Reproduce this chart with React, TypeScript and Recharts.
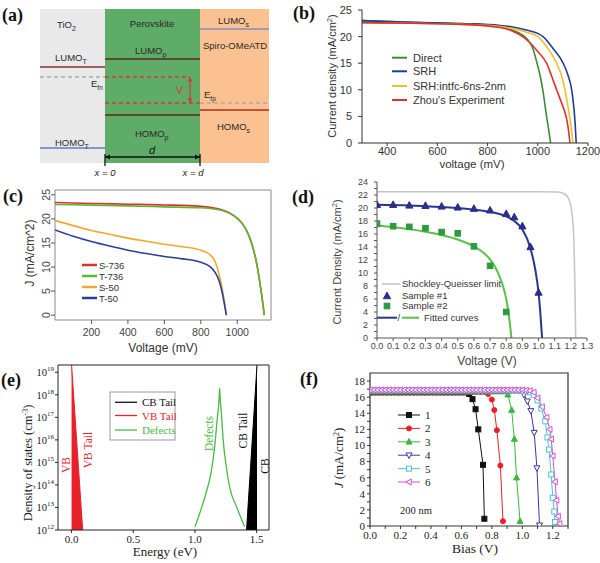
import React from 'react';
import { ComposedChart, Line, Area, XAxis, YAxis, ReferenceArea, ReferenceLine } from 'recharts';

const SANS = '"Liberation Sans", Arial, Helvetica, sans-serif';
const SERIF = '"Liberation Serif", "Times New Roman", serif';

// ---------------- (a) band diagram ----------------
const A_X_RANGE = [-0.684, 1.726];
const A_ENERGY_RANGE = [-7.7, 0];
const A_LAYERS = [
  { name: 'TiO2', from: -0.684, to: 0, fill: '#e9e9e9' },
  { name: 'Perovskite', from: 0, to: 1, fill: '#5fab68' },
  { name: 'Spiro-OMeATD', from: 1, to: 1.726, fill: '#fbc190' },
];
const A_LEVELS = [
  { name: 'LUMO_T', from: -0.684, to: 0, energy: -2.9, color: '#8c2b2b' },
  { name: 'HOMO_T', from: -0.684, to: 0, energy: -6.95, color: '#5b80c0' },
  { name: 'LUMO_p', from: 0, to: 1, energy: -2.5, color: '#5a2a1e' },
  { name: 'HOMO_p', from: 0, to: 1, energy: -5.3, color: '#5a2a1e' },
  { name: 'LUMO_s', from: 1, to: 1.726, energy: -1.0, color: '#8090c0' },
  { name: 'HOMO_s', from: 1, to: 1.726, energy: -5.05, color: '#a83222' },
];
const A_FERMI = [
  { name: 'Efn-TiO2', from: -0.684, to: 0, energy: -3.4, color: '#aaaaaa' },
  { name: 'Efn', from: 0, to: 0.895, energy: -3.4, color: '#d83a2e' },
  { name: 'Efp', from: 0, to: 1, energy: -4.7, color: '#d83a2e' },
  { name: 'Efp-spiro', from: 1, to: 1.726, energy: -4.7, color: '#aaaaaa' },
];
const A_V_X = 0.895;
const A_D_ENERGY = -7.4;
const A_BOUNDARIES = [0, 1];

// ---------------- (b) ----------------
const B_X_TICKS = [400, 600, 800, 1000, 1200];
const B_Y_TICKS = [0, 5, 10, 15, 20, 25];
const B_DIRECT = [[300, 23.0], [500, 22.7], [700, 22.4], [800, 22.15], [850, 21.8], [900, 21.2], [940, 20.3], [960, 19.4], [980, 17.8], [997, 15.0], [1010, 12.5], [1020, 10.0], [1035, 5.0], [1045, 2.0], [1051, 0]];
const B_SRH = [[300, 23.0], [500, 22.7], [700, 22.45], [850, 22.1], [900, 21.8], [950, 21.3], [1000, 20.6], [1021, 20.0], [1060, 17.8], [1101, 15.0], [1120, 12.8], [1135, 10.0], [1144, 6.5], [1149, 3.5], [1153, 0]];
const B_INTFC = [[300, 22.6], [500, 22.5], [700, 22.3], [850, 21.9], [900, 21.5], [950, 20.9], [1000, 20.0], [1040, 17.8], [1075, 15.0], [1100, 11.8], [1108, 10.0], [1125, 5.5], [1133, 3.0], [1140, 0]];
const B_ZHOU = [[300, 22.6], [500, 22.5], [700, 22.3], [850, 21.7], [900, 21.0], [940, 20.0], [970, 18.8], [1000, 17.2], [1035, 15.0], [1055, 12.6], [1075, 10.0], [1095, 7.5], [1115, 4.5], [1123, 2.2], [1128, 0]];
const B_SERIES = [
  { name: 'Direct', pts: B_DIRECT, color: '#3d8b37' },
  { name: 'SRH', pts: B_SRH, color: '#1f3d99' },
  { name: 'SRH:intfc-6ns-2nm', pts: B_INTFC, color: '#f2bf2a' },
  { name: "Zhou's Experiment", pts: B_ZHOU, color: '#e0302a' },
];

// ---------------- (c) ----------------
const C_X_TICKS = [200, 400, 600, 800, 1000];
const C_Y_TICKS = [0, 5, 10, 15, 20, 25];
const C_S736 = [[0, 23.4], [200, 23.2], [400, 23.05], [600, 22.9], [800, 22.6], [880, 22.2], [930, 21.7], [960, 21.2], [1000, 20.1], [1030, 18.9], [1052, 17.5], [1080, 14.8], [1106, 10.8], [1125, 6.5], [1140, 2.5], [1148, 0]];
const C_T736 = [[0, 23.0], [200, 22.85], [400, 22.7], [600, 22.5], [800, 22.3], [880, 22.0], [930, 21.6], [960, 21.1], [1000, 20.1], [1030, 18.9], [1052, 17.5], [1080, 14.8], [1106, 10.8], [1125, 6.5], [1140, 2.5], [1148, 0]];
const C_S50 = [[0, 19.7], [100, 18.6], [200, 17.6], [300, 16.8], [400, 16.0], [500, 15.35], [600, 14.75], [700, 14.2], [800, 13.5], [850, 12.6], [880, 11.0], [900, 8.5], [920, 5.0], [940, 0]];
const C_T50 = [[0, 17.7], [100, 16.4], [200, 15.3], [300, 14.35], [400, 13.5], [500, 12.8], [600, 12.2], [700, 11.7], [800, 11.0], [850, 10.1], [880, 8.8], [900, 7.2], [920, 4.2], [940, 0]];
const C_SERIES = [
  { name: 'S-736', pts: C_S736, color: '#e0302e' },
  { name: 'T-736', pts: C_T736, color: '#5cb832' },
  { name: 'S-50', pts: C_S50, color: '#f0a830' },
  { name: 'T-50', pts: C_T50, color: '#2a3f9a' },
];

// ---------------- (d) ----------------
const D_X_TICKS = [0, 0.1, 0.2, 0.3, 0.4, 0.5, 0.6, 0.7, 0.8, 0.9, 1.0, 1.1, 1.2, 1.3];
const D_Y_TICKS = [0, 1, 2, 3, 4, 5, 6, 7, 8, 9, 10, 11, 12, 13, 14, 15, 16, 17, 18, 19, 20, 21, 22, 23, 24];
const D_SQ_LIMIT = [[0, 22.5], [0.2, 22.5], [0.4, 22.5], [0.6, 22.5], [0.8, 22.5], [1.0, 22.5], [1.12, 22.45], [1.16, 22.2], [1.19, 21.2], [1.21, 18.5], [1.22, 14], [1.225, 8], [1.23, 0]];
const D_SAMPLE1 = [[0, 20.5], [0.1, 20.5], [0.2, 20.4], [0.3, 20.35], [0.4, 20.25], [0.5, 20.1], [0.6, 19.9], [0.7, 19.65], [0.8, 19.1], [0.85, 18.6], [0.9, 17.2], [0.95, 14.0], [1.0, 7.0]];
const D_SAMPLE2 = [[0, 17.6], [0.1, 17.2], [0.2, 17.1], [0.3, 16.9], [0.4, 16.3], [0.5, 16.1], [0.6, 14.1], [0.7, 11.1], [0.8, 4.0]];
const D_FIT1 = [[0, 20.5], [0.2, 20.4], [0.4, 20.15], [0.5, 20.0], [0.6, 19.75], [0.7, 19.4], [0.8, 18.7], [0.85, 18.0], [0.9, 16.7], [0.95, 13.8], [0.98, 10.5], [1.0, 7.0], [1.01, 4.2], [1.022, 0]];
const D_FIT2 = [[0, 17.3], [0.1, 17.05], [0.2, 16.75], [0.3, 16.35], [0.4, 15.85], [0.5, 15.15], [0.6, 14.1], [0.65, 13.3], [0.7, 12.1], [0.75, 10.0], [0.78, 8.0], [0.8, 6.0], [0.82, 2.8], [0.832, 0]];

// ---------------- (e) ----------------
const E_X_TICKS = [0, 0.5, 1.0, 1.5];
const E_Y_TICKS = [1e12, 1e13, 1e14, 1e15, 1e16, 1e17, 1e18, 1e19];
const E_VB_TAIL = [[0, 2.1e19], [0.09, 1e12]];
const E_CB_TAIL = [[1.418, 1e12], [1.503, 2.1e19]];
const E_DEFECTS = [[1.0, 1.4e12], [1.04, 5.8e12], [1.09, 4.4e13], [1.13, 3.4e14], [1.16, 5e15], [1.18, 8e16], [1.195, 6e17], [1.2, 2e18], [1.205, 6e17], [1.214, 1.6e17], [1.227, 1.26e16], [1.254, 6.3e14], [1.281, 8e13], [1.336, 1.1e13], [1.403, 1.4e12]];

// ---------------- (f) ----------------
const F_X_TICKS = [0, 0.1, 0.2, 0.3, 0.4, 0.5, 0.6, 0.7, 0.8, 0.9, 1.0, 1.1, 1.2, 1.3];
const F_Y_TICKS = [0, 1, 2, 3, 4, 5, 6, 7, 8, 9, 10, 11, 12, 13, 14, 15, 16, 17, 18];
const F_BIAS_GRID = [0, 0.025, 0.05, 0.075, 0.1, 0.125, 0.15, 0.175, 0.2, 0.225, 0.25, 0.275, 0.3, 0.325, 0.35, 0.375, 0.4, 0.425, 0.45, 0.475, 0.5, 0.525, 0.55, 0.575, 0.6, 0.625, 0.65, 0.675, 0.7, 0.725, 0.75, 0.775, 0.8, 0.825, 0.85, 0.875, 0.9, 0.925, 0.95, 0.975, 1.0, 1.025];
const F1_PLATEAU = [
  16.6, 16.6, 16.6, 16.6, 16.6, 16.6, 16.6, 16.6, 16.6, 16.6,
  16.6, 16.6, 16.6, 16.6, 16.6, 16.6, 16.6, 16.6, 16.6, 16.6,
  16.6, 16.6, 16.6, 16.6, 16.6, 16.6];
const F1_DROP = [[0.651, 16.4], [0.673, 15.75], [0.693, 14.5], [0.711, 12.0], [0.742, 7.6], [0.751, 0.9]];
const F2_PLATEAU = [
  16.65, 16.65, 16.65, 16.65, 16.65, 16.65, 16.65, 16.65, 16.65, 16.65,
  16.65, 16.65, 16.65, 16.65, 16.65, 16.65, 16.65, 16.65, 16.65, 16.65,
  16.65, 16.65, 16.65, 16.65, 16.65, 16.65, 16.65, 16.65, 16.65, 16.65,
  16.65];
const F2_DROP = [[0.775, 16.4], [0.8, 15.7], [0.816, 14.4], [0.833, 11.9], [0.856, 7.5], [0.873, 0.6]];
const F3_PLATEAU = [
  16.7, 16.7, 16.7, 16.7, 16.7, 16.7, 16.7, 16.7, 16.7, 16.7,
  16.7, 16.7, 16.7, 16.7, 16.7, 16.7, 16.7, 16.7, 16.7, 16.7,
  16.7, 16.7, 16.7, 16.7, 16.7, 16.7, 16.7, 16.7, 16.7, 16.7,
  16.7, 16.7, 16.7, 16.7, 16.7, 16.7];
const F3_DROP = [[0.905, 16.3], [0.93, 14.4], [0.948, 10.8], [0.962, 6.0], [0.985, 0.6]];
const F4_PLATEAU = [
  16.8, 16.8, 16.8, 16.8, 16.8, 16.8, 16.8, 16.8, 16.8, 16.8,
  16.8, 16.8, 16.8, 16.8, 16.8, 16.8, 16.8, 16.8, 16.8, 16.8,
  16.8, 16.8, 16.8, 16.8, 16.8, 16.8, 16.8, 16.8, 16.8, 16.8,
  16.8, 16.8, 16.8, 16.8, 16.8, 16.8, 16.8, 16.8, 16.8, 16.8];
const F4_DROP = [[1.011, 16.3], [1.033, 15.5], [1.056, 14.3], [1.078, 11.6], [1.096, 7.2], [1.113, 0.1]];
const F5_PLATEAU = [
  16.85, 16.85, 16.85, 16.85, 16.85, 16.85, 16.85, 16.85, 16.85, 16.85,
  16.85, 16.85, 16.85, 16.85, 16.85, 16.85, 16.85, 16.85, 16.85, 16.85,
  16.85, 16.85, 16.85, 16.85, 16.85, 16.85, 16.85, 16.85, 16.85, 16.85,
  16.85, 16.85, 16.85, 16.85, 16.85, 16.85, 16.85, 16.85, 16.85, 16.85,
  16.8, 16.75];
const F5_DROP = [[1.05, 16.6], [1.075, 16.3], [1.1, 15.6], [1.125, 14.6], [1.15, 13.0], [1.165, 11.0], [1.175, 9.5], [1.19, 6.4], [1.2, 3.5], [1.21, 1.8], [1.215, 0.5]];
const F6_PLATEAU = [
  16.9, 16.9, 16.9, 16.9, 16.9, 16.9, 16.9, 16.9, 16.9, 16.9,
  16.9, 16.9, 16.9, 16.9, 16.9, 16.9, 16.9, 16.9, 16.9, 16.9,
  16.9, 16.9, 16.9, 16.9, 16.9, 16.9, 16.9, 16.9, 16.9, 16.9,
  16.9, 16.9, 16.9, 16.9, 16.9, 16.9, 16.9, 16.9, 16.9, 16.9,
  16.9, 16.85];
const F6_DROP = [[1.05, 16.8], [1.075, 16.6], [1.1, 15.9], [1.13, 14.8], [1.16, 13.5], [1.18, 12.0], [1.19, 10.8], [1.2, 8.7], [1.215, 5.5], [1.225, 3.2], [1.235, 1.2], [1.245, 0.3]];
const F_SERIES = [
  { name: '1', plateau: F1_PLATEAU, drop: F1_DROP, color: '#111111', shape: 'square', filled: true },
  { name: '2', plateau: F2_PLATEAU, drop: F2_DROP, color: '#e8202a', shape: 'circle', filled: true },
  { name: '3', plateau: F3_PLATEAU, drop: F3_DROP, color: '#3cb83c', shape: 'up', filled: true },
  { name: '4', plateau: F4_PLATEAU, drop: F4_DROP, color: '#3a3a9a', shape: 'down', filled: false },
  { name: '5', plateau: F5_PLATEAU, drop: F5_DROP, color: '#4cc4d0', shape: 'square', filled: false },
  { name: '6', plateau: F6_PLATEAU, drop: F6_DROP, color: '#d050d0', shape: 'left', filled: false },
];

// ---------------- helpers ----------------
type Pt = { v: number; j: number };
const toPts = (pairs: number[][]): Pt[] => pairs.map(([v, j]) => ({ v, j }));
const fSeriesData = (plateau: number[], drop: number[][]): Pt[] =>
  plateau.map((j, i) => ({ v: F_BIAS_GRID[i], j })).concat(toPts(drop));

const markerEl = (kind: string, color: string, filled: boolean, cx: number, cy: number, key?: any, s = 2.7) => {
  const fill = filled ? color : '#ffffff';
  const common = { fill, stroke: color, strokeWidth: 1 };
  if (kind === 'square') return <rect key={key} x={cx - s} y={cy - s} width={2 * s} height={2 * s} {...common} />;
  if (kind === 'circle') return <circle key={key} cx={cx} cy={cy} r={s} {...common} />;
  if (kind === 'up') return <polygon key={key} points={`${cx},${cy - s * 1.3} ${cx - s * 1.2},${cy + s * 0.9} ${cx + s * 1.2},${cy + s * 0.9}`} {...common} />;
  if (kind === 'down') return <polygon key={key} points={`${cx},${cy + s * 1.3} ${cx - s * 1.2},${cy - s * 0.9} ${cx + s * 1.2},${cy - s * 0.9}`} {...common} />;
  return <polygon key={key} points={`${cx - s * 1.3},${cy} ${cx + s * 0.9},${cy - s * 1.2} ${cx + s * 0.9},${cy + s * 1.2}`} {...common} />;
};
const dotFn = (kind: string, color: string, filled: boolean, s = 2.7) => (props: any) => {
  const { cx, cy, index } = props;
  if (cx == null || cy == null || isNaN(cx) || isNaN(cy)) return <g key={`e${index}`} />;
  return markerEl(kind, color, filled, cx, cy, `m${index}`, s);
};

const doubleArrow = (color: string, head = 5, half = 2.6, width = 1.3) => (props: any) => {
  const { x1, y1, x2, y2 } = props;
  const ang = Math.atan2(y2 - y1, x2 - x1);
  const c = Math.cos(ang), s = Math.sin(ang);
  const tri = (tx: number, ty: number, dir: number) => {
    const bx = tx - dir * head * c, by = ty - dir * head * s;
    return `${tx},${ty} ${bx - half * s},${by + half * c} ${bx + half * s},${by - half * c}`;
  };
  return (
    <g>
      <line x1={x1} y1={y1} x2={x2} y2={y2} stroke={color} strokeWidth={width} />
      <polygon points={tri(x2, y2, 1)} fill={color} />
      <polygon points={tri(x1, y1, -1)} fill={color} />
    </g>
  );
};

const RotTickC = (props: any) => {
  const { x, y, payload } = props;
  return (
    <text x={x} y={y} transform={`rotate(-90, ${x}, ${y})`} textAnchor="middle" fontSize={10.5} fontFamily={SANS} fill="#444">
      {payload.value}
    </text>
  );
};
const PowTick = (props: any) => {
  const { x, y, payload } = props;
  const exp = Math.round(Math.log10(payload.value));
  return (
    <text x={x} y={y} dy={4} textAnchor="end" fontFamily={SERIF} fontSize={10.5} fill="#222">
      <tspan>10</tspan>
      <tspan dy={-5} fontSize={7}>{exp}</tspan>
    </text>
  );
};

const VText = ({ x, y, children, ...rest }: any) => (
  <text x={x} y={y} transform={`rotate(-90 ${x} ${y})`} textAnchor="middle" {...rest}>
    {children}
  </text>
);

const evenLabel = (v: number) => (Math.round(v * 10) % 2 === 0 ? v.toFixed(1) : '');

export default function App() {
  const aText = { fontFamily: SANS, fontSize: 9.5, fill: '#2a2a2a' } as const;
  return (
    <div style={{ position: 'absolute', left: 0, top: 0, width: 600, height: 563, background: '#ffffff', overflow: 'hidden' }}>
      {/* (a) */}
      <div style={{ position: 'absolute', left: 0, top: 0 }}>
        <ComposedChart width={300} height={180} margin={{ top: 9, right: 31, bottom: 17, left: 40 }}>
          <XAxis type="number" dataKey="v" domain={A_X_RANGE} hide allowDataOverflow />
          <YAxis type="number" domain={A_ENERGY_RANGE} hide allowDataOverflow />
          {A_LAYERS.map((l) => (
            <ReferenceArea key={l.name} x1={l.from} x2={l.to} y1={A_ENERGY_RANGE[0]} y2={A_ENERGY_RANGE[1]} fill={l.fill} fillOpacity={1} stroke="none" ifOverflow="visible" />
          ))}
          {A_LEVELS.map((l) => (
            <ReferenceLine key={l.name} segment={[{ x: l.from, y: l.energy }, { x: l.to, y: l.energy }]} stroke={l.color} strokeWidth={1.6} ifOverflow="visible" />
          ))}
          {A_FERMI.map((l) => (
            <ReferenceLine key={l.name} segment={[{ x: l.from, y: l.energy }, { x: l.to, y: l.energy }]} stroke={l.color} strokeWidth={1.4} strokeDasharray="4 3" ifOverflow="visible" />
          ))}
          <ReferenceLine segment={[{ x: A_V_X, y: A_FERMI[1].energy }, { x: A_V_X, y: A_FERMI[2].energy }]} stroke="#d83a2e" ifOverflow="visible" shape={doubleArrow('#d83a2e', 4.5, 2.4, 1.2)} />
          <ReferenceLine segment={[{ x: A_BOUNDARIES[0], y: A_D_ENERGY }, { x: A_BOUNDARIES[1], y: A_D_ENERGY }]} stroke="#111" ifOverflow="visible" shape={doubleArrow('#111111', 5, 2.6, 1.3)} />
          {A_BOUNDARIES.map((b) => (
            <ReferenceLine key={`b${b}`} segment={[{ x: b, y: -7.25 }, { x: b, y: -7.85 }]} stroke="#111" strokeWidth={1.3} ifOverflow="visible" />
          ))}
        </ComposedChart>
      </div>

      {/* (b) */}
      <div style={{ position: 'absolute', left: 300, top: 0 }}>
        <ComposedChart width={300} height={180} margin={{ top: 10, right: 12, bottom: 7, left: 12 }}>
          <XAxis type="number" dataKey="v" domain={[300, 1200]} ticks={B_X_TICKS} allowDataOverflow height={30} stroke="#333" tickSize={3} tickMargin={1} tick={{ fontSize: 11, fill: '#333', fontFamily: SANS }} interval={0} />
          <YAxis type="number" domain={[0, 25]} ticks={B_Y_TICKS} allowDataOverflow width={50} stroke="#333" tickSize={4} tickMargin={6} tick={{ fontSize: 11, fill: '#333', fontFamily: SANS }} interval={0} />
          {B_SERIES.map((s) => (
            <Line key={s.name} data={toPts(s.pts)} dataKey="j" type="monotone" stroke={s.color} strokeWidth={1.6} dot={false} isAnimationActive={false} />
          ))}
        </ComposedChart>
      </div>

      {/* (c) */}
      <div style={{ position: 'absolute', left: 0, top: 180 }}>
        <ComposedChart width={300} height={190} margin={{ top: 10, right: 29, bottom: 20, left: 15 }}>
          <XAxis type="number" dataKey="v" domain={[0, 1185]} ticks={C_X_TICKS} allowDataOverflow height={30} stroke="#555" tickSize={4} tickMargin={5} tick={{ fontSize: 10.5, fill: '#444', fontFamily: SANS }} axisLine={false} interval={0} />
          <YAxis type="number" domain={[-1, 26]} ticks={C_Y_TICKS} allowDataOverflow width={40} stroke="#555" tickSize={4} tickMargin={1} tick={<RotTickC />} axisLine={false} interval={0} />
          <ReferenceArea x1={0} x2={1185} y1={-1} y2={26} fill="none" stroke="#8a8a8a" strokeWidth={1} ifOverflow="visible" />
          {C_SERIES.map((s) => (
            <Line key={s.name} data={toPts(s.pts)} dataKey="j" type="monotone" stroke={s.color} strokeWidth={1.6} dot={false} isAnimationActive={false} />
          ))}
        </ComposedChart>
      </div>

      {/* (d) */}
      <div style={{ position: 'absolute', left: 300, top: 170 }}>
        <ComposedChart width={300} height={200} margin={{ top: 12, right: 13, bottom: 12, left: 27 }}>
          <XAxis type="number" dataKey="v" domain={[0, 1.3]} ticks={D_X_TICKS} allowDataOverflow height={20} stroke="#555" tickSize={3} tickMargin={2} tickFormatter={(v: number) => v.toFixed(1)} tick={{ fontSize: 9, fill: '#444', fontFamily: SANS }} interval={0} />
          <YAxis type="number" domain={[0, 24]} ticks={D_Y_TICKS} allowDataOverflow width={50} stroke="#555" tickSize={3} tickMargin={6} tickFormatter={(v: number) => (v % 2 === 0 ? String(v) : '')} tick={{ fontSize: 9, fill: '#444', fontFamily: SANS }} interval={0} />
          <Line data={toPts(D_SQ_LIMIT)} dataKey="j" type="monotone" stroke="#c6c6c6" strokeWidth={1.6} dot={false} isAnimationActive={false} />
          <Line data={toPts(D_FIT1)} dataKey="j" type="monotone" stroke="#2a3590" strokeWidth={2} dot={false} isAnimationActive={false} />
          <Line data={toPts(D_FIT2)} dataKey="j" type="monotone" stroke="#5cbf48" strokeWidth={2} dot={false} isAnimationActive={false} />
          <Line data={toPts(D_SAMPLE1)} dataKey="j" stroke="none" strokeWidth={0} dot={dotFn('up', '#2a2f8a', true, 3)} isAnimationActive={false} />
          <Line data={toPts(D_SAMPLE2)} dataKey="j" stroke="none" strokeWidth={0} dot={dotFn('square', '#2e9a3e', true, 2.8)} isAnimationActive={false} />
        </ComposedChart>
      </div>

      {/* (e) */}
      <div style={{ position: 'absolute', left: 0, top: 355 }}>
        <ComposedChart width={300} height={208} margin={{ top: 10, right: 31, bottom: 13, left: 13 }}>
          <XAxis type="number" dataKey="v" domain={[-0.11, 1.6]} ticks={E_X_TICKS} allowDataOverflow height={20} stroke="#222" tickSize={3} tickMargin={2} tickFormatter={(v: number) => v.toFixed(1)} tick={{ fontSize: 11, fill: '#222', fontFamily: SERIF }} axisLine={false} interval={0} />
          <YAxis type="number" scale="log" domain={[1e12, 2.1e19]} ticks={E_Y_TICKS} allowDataOverflow width={45} stroke="#222" tickSize={3} tickMargin={1} tick={<PowTick />} axisLine={false} interval={0} />
          <Area data={toPts(E_VB_TAIL)} dataKey="j" type="linear" stroke="#e8202a" strokeWidth={1} fill="#e8202a" fillOpacity={1} baseValue={1e12} isAnimationActive={false} />
          <Area data={toPts(E_CB_TAIL)} dataKey="j" type="linear" stroke="#000" strokeWidth={1} fill="#000" fillOpacity={1} baseValue={1e12} isAnimationActive={false} />
          <Line data={toPts(E_DEFECTS)} dataKey="j" type="monotone" stroke="#4cb848" strokeWidth={1.3} dot={false} isAnimationActive={false} />
          <ReferenceArea x1={-0.11} x2={1.6} y1={1e12} y2={2.1e19} fill="none" stroke="#222" strokeWidth={1} ifOverflow="visible" />
        </ComposedChart>
      </div>

      {/* (f) */}
      <div style={{ position: 'absolute', left: 300, top: 365 }}>
        <ComposedChart width={300} height={198} margin={{ top: 8, right: 32, bottom: 17, left: 25 }}>
          <XAxis type="number" dataKey="v" domain={[0, 1.3]} ticks={F_X_TICKS} allowDataOverflow height={20} stroke="#333" tickSize={3} tickMargin={2} tickFormatter={evenLabel} tick={{ fontSize: 11, fill: '#222', fontFamily: SERIF }} interval={0} axisLine={false} />
          <YAxis type="number" domain={[0, 19]} ticks={F_Y_TICKS} allowDataOverflow width={45} stroke="#333" tickSize={3} tickMargin={2} tickFormatter={(v: number) => (v % 2 === 0 ? String(v) : '')} tick={{ fontSize: 11, fill: '#222', fontFamily: SERIF }} interval={0} axisLine={false} />
          <ReferenceArea x1={0} x2={1.3} y1={0} y2={19} fill="none" stroke="#333" strokeWidth={1.2} ifOverflow="visible" />
          {F_SERIES.map((s) => (
            <Line key={s.name} data={fSeriesData(s.plateau, s.drop)} dataKey="j" type="linear" stroke={s.color} strokeWidth={1} dot={dotFn(s.shape, s.color, s.filled, 2.5)} isAnimationActive={false} />
          ))}
        </ComposedChart>
      </div>

      {/* annotations */}
      <svg width={600} height={563} style={{ position: 'absolute', left: 0, top: 0, pointerEvents: 'none' }}>
        {/* panel letters */}
        <g fontFamily={SERIF} fontWeight="bold" fontSize={18} fill="#111">
          <text x={2} y={21}>(a)</text>
          <text x={293} y={19}>(b)</text>
          <text x={3} y={202}>(c)</text>
          <text x={292} y={203}>(d)</text>
          <text x={1} y={386}>(e)</text>
          <text x={300} y={385}>(f)</text>
        </g>

        {/* (a) texts */}
        <text x={57} y={27.5} {...aText}>TiO<tspan dy={3} fontSize={7}>2</tspan></text>
        <text x={152} y={26.5} textAnchor="middle" {...aText}>Perovskite</text>
        <text x={218} y={23.5} {...aText}>LUMO<tspan dy={3} fontSize={7}>s</tspan></text>
        <text x={203} y={48.5} {...aText}>Spiro-OMeATD</text>
        <text x={55} y={60.5} {...aText}>LUMO<tspan dy={3} fontSize={7}>T</tspan></text>
        <text x={135} y={53.5} {...aText}>LUMO<tspan dy={3} fontSize={7}>p</tspan></text>
        <text x={91} y={86.5} {...aText}>E<tspan dy={3} fontSize={6.5}>fn</tspan></text>
        <text x={176} y={94} fontFamily={SANS} fontSize={10.5} fill="#d83a2e">V</text>
        <text x={204} y={97.5} {...aText}>E<tspan dy={3} fontSize={6.5}>fp</tspan></text>
        <text x={217} y={129.5} {...aText}>HOMO<tspan dy={3} fontSize={7}>s</tspan></text>
        <text x={135} y={136.5} {...aText}>HOMO<tspan dy={3} fontSize={7}>p</tspan></text>
        <text x={55} y={145.5} {...aText}>HOMO<tspan dy={3} fontSize={7}>T</tspan></text>
        <text x={152} y={154} textAnchor="middle" fontFamily={SANS} fontSize={11} fontStyle="italic" fill="#111">d</text>
        <text x={105} y={176} textAnchor="middle" fontFamily={SANS} fontSize={9.5} fontStyle="italic" fill="#222">x = 0</text>
        <text x={193} y={176} textAnchor="middle" fontFamily={SANS} fontSize={9.5} fontStyle="italic" fill="#222">x = d</text>

        {/* (b) axis titles + legend */}
        <VText x={336} y={76} fontFamily={SANS} fontSize={11} fill="#333">
          Current density (mA/cm<tspan dy={-4} fontSize={7.5}>2</tspan><tspan dy={4}>)</tspan>
        </VText>
        <text x={472} y={168} textAnchor="middle" fontFamily={SANS} fontSize={11.5} fill="#333">voltage (mV)</text>
        {B_SERIES.map((s, i) => {
          const y = [57.7, 71.3, 86, 100][i];
          return (
            <g key={s.name}>
              <line x1={392} x2={407} y1={y} y2={y} stroke={s.color} strokeWidth={2} />
              <text x={413} y={y + 4} fontFamily={SANS} fontSize={11} fill="#333">{s.name}</text>
            </g>
          );
        })}

        {/* (c) axis titles + legend */}
        <VText x={34} y={253} fontFamily={SANS} fontSize={12} fill="#333">J (mA/cm^2)</VText>
        <text x={163} y={352} textAnchor="middle" fontFamily={SANS} fontSize={12} fill="#333">Voltage (mV)</text>
        {C_SERIES.map((s, i) => {
          const y = 265 + i * 11;
          return (
            <g key={s.name}>
              <line x1={82} x2={97} y1={y} y2={y} stroke={s.color} strokeWidth={2.5} />
              <text x={99} y={y + 3.6} fontFamily={SANS} fontSize={9.5} fill="#333">{s.name}</text>
            </g>
          );
        })}

        {/* (d) axis titles + legend */}
        <VText x={341} y={262} fontFamily={SANS} fontSize={11} fill="#444">
          Current Density (mA/cm<tspan dy={-4} fontSize={7.5}>2</tspan><tspan dy={4}>)</tspan>
        </VText>
        <text x={487} y={365} textAnchor="middle" fontFamily={SANS} fontSize={12} fill="#444">Voltage (V)</text>
        <g fontFamily={SANS} fontSize={9.5} fill="#333">
          <line x1={382} x2={400} y1={284} y2={284} stroke="#c6c6c6" strokeWidth={1.6} />
          <text x={402} y={287.3}>Shockley-Queisser limit</text>
          {markerEl('up', '#2a2f8a', true, 387, 296, 'lt', 3)}
          <text x={402} y={299.3}>Sample #1</text>
          {markerEl('square', '#2e9a3e', true, 387, 306, 'ls', 2.8)}
          <text x={402} y={309.3}>Sample #2</text>
          <line x1={377} x2={397} y1={317.7} y2={317.7} stroke="#2a3590" strokeWidth={2} />
          <text x={397.5} y={321}>/</text>
          <line x1={402} x2={419} y1={317.7} y2={317.7} stroke="#5cbf48" strokeWidth={2} />
          <text x={424} y={321}>Fitted curves</text>
        </g>

        {/* (e) axis titles, labels, legend */}
        <VText x={31.5} y={463} fontFamily={SERIF} fontSize={12.5} fill="#222">
          Density of states (cm<tspan dy={-4} fontSize={8}>-3</tspan><tspan dy={4}>)</tspan>
        </VText>
        <text x={165} y={556} textAnchor="middle" fontFamily={SERIF} fontSize={13} fill="#222">Energy (eV)</text>
        <VText x={70} y={465} fontFamily={SERIF} fontSize={11.5} fill="#e8202a">VB</VText>
        <VText x={91.5} y={450} fontFamily={SERIF} fontSize={11.5} fill="#e8202a">VB Tail</VText>
        <VText x={212.5} y={433.5} fontFamily={SERIF} fontSize={11.5} fill="#4cb848">Defects</VText>
        <VText x={246.5} y={430.5} fontFamily={SERIF} fontSize={11.5} fill="#111">CB Tail</VText>
        <VText x={269} y={466} fontFamily={SERIF} fontSize={11.5} fill="#111">CB</VText>
        <rect x={110} y={392} width={65} height={48} fill="#ffffff" stroke="#999" strokeWidth={1} />
        {[
          { label: 'CB Tail', color: '#111111', y: 402.3 },
          { label: 'VB Tail', color: '#e8202a', y: 415.5 },
          { label: 'Defects', color: '#4cb848', y: 430 },
        ].map((r) => (
          <g key={r.label}>
            <line x1={115} x2={137} y1={r.y} y2={r.y} stroke={r.color} strokeWidth={1.3} />
            <text x={142} y={r.y + 4} fontFamily={SERIF} fontSize={11} fill={r.color}>{r.label}</text>
          </g>
        ))}

        {/* (f) axis titles, legend */}
        <text x={342.5} y={458} transform="rotate(-90 342.5 458)" textAnchor="middle" fontFamily={SERIF} fontSize={13} fill="#222">
          <tspan fontStyle="italic">J</tspan> (mA/cm<tspan dy={-4} fontSize={8}>2</tspan><tspan dy={4}>)</tspan>
        </text>
        <text x={475} y={553} textAnchor="middle" fontFamily={SERIF} fontSize={13.5} fill="#222">Bias (V)</text>
        <text x={400} y={514} fontFamily={SERIF} fontSize={10.5} fill="#222">200 nm</text>
        {F_SERIES.map((s, i) => {
          const y = 415 + i * 13.4;
          return (
            <g key={s.name}>
              <line x1={398} x2={420} y1={y} y2={y} stroke={s.color} strokeWidth={1} />
              {markerEl(s.shape, s.color, s.filled, 409, y, `lg${i}`, 2.5)}
              <text x={425} y={y + 4} fontFamily={SERIF} fontSize={11} fill="#222">{s.name}</text>
            </g>
          );
        })}
      </svg>
    </div>
  );
}
